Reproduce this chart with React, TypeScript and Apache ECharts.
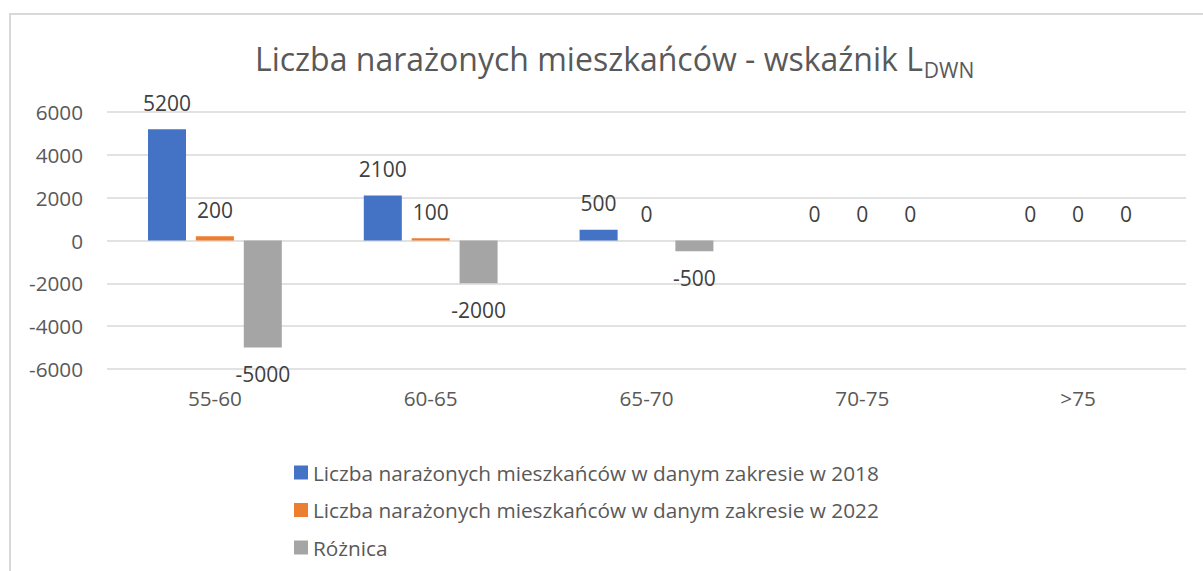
import React, { useEffect, useRef } from "react";
import * as echarts from "echarts";

const categories = ["55-60", "60-65", "65-70", "70-75", ">75"];
const values2018 = [5200, 2100, 500, 0, 0];
const values2022 = [200, 100, 0, 0, 0];
const valuesDiff = [-5000, -2000, -500, 0, 0];
const seriesNames = [
  "Liczba narażonych mieszkańców w danym zakresie w 2018",
  "Liczba narażonych mieszkańców w danym zakresie w 2022",
  "Różnica",
];
const seriesColors = ["#4472C4", "#ED7D31", "#A5A5A5"];
const titleMain = "Liczba narażonych mieszkańców - wskaźnik L";
const titleSub = "DWN";

const FONT = "'Open Sans', 'Noto Sans', sans-serif";
const TITLE_SIZE = 32;
const SUB_SIZE = 21;
const TITLE_X = 255;

function measure(text: string, size: number): number {
  const c = document.createElement("canvas").getContext("2d");
  if (!c) return text.length * size * 0.5;
  c.font = `${size}px ${FONT}`;
  return c.measureText(text).width;
}

export default function App() {
  const ref = useRef<HTMLDivElement>(null);
  useEffect(() => {
    if (!ref.current) return;
    const chart = echarts.init(ref.current, null, { renderer: "svg" });
    const mainW = measure(titleMain, TITLE_SIZE);
    const mk = (vals: number[], i: number) => ({
      name: seriesNames[i],
      type: "bar",
      barGap: "26%",
      barCategoryGap: "38%",
      itemStyle: { color: seriesColors[i] },
      data: vals.map((v) => ({
        value: v,
        label: { position: v < 0 ? "bottom" : "top" },
      })),
      label: {
        show: true,
        distance: 16,
        fontSize: 21,
        fontFamily: FONT,
        color: "#404040",
      },
    });
    chart.setOption({
      animation: false,
      backgroundColor: "#ffffff",
      textStyle: { fontFamily: FONT },
      title: {
        text: titleMain,
        left: TITLE_X - 5,
        top: 33,
        textStyle: {
          fontSize: TITLE_SIZE,
          fontFamily: FONT,
          fontWeight: "normal",
          color: "#595959",
          lineHeight: 40,
        },
      },
      legend: {
        orient: "vertical",
        left: 289,
        top: 457,
        icon: "rect",
        itemWidth: 14,
        itemHeight: 14,
        itemGap: 16.5,
        data: seriesNames,
        textStyle: {
          fontSize: 20.8,
          fontFamily: FONT,
          color: "#595959",
          lineHeight: 20,
        },
      },
      grid: { left: 107, right: 17, top: 112, bottom: 202, containLabel: false },
      xAxis: {
        type: "category",
        data: categories,
        axisLine: { show: false, onZero: false },
        axisTick: { show: false },
        axisLabel: {
          fontSize: 20.7,
          fontFamily: FONT,
          color: "#595959",
          margin: 18,
        },
        splitLine: { show: false },
      },
      yAxis: {
        type: "value",
        min: -6000,
        max: 6000,
        interval: 2000,
        axisLine: { show: false },
        axisTick: { show: false },
        axisLabel: {
          fontSize: 20.7,
          fontFamily: FONT,
          color: "#595959",
          margin: 24,
          formatter: (v: number) => String(v),
        },
        splitLine: { lineStyle: { color: "#D9D9D9", width: 1.5 } },
      },
      graphic: [
        {
          type: "rect",
          silent: true,
          z: -1,
          shape: { x: 10, y: 14, width: 1400, height: 800 },
          style: { fill: "none", stroke: "#D9D9D9", lineWidth: 2 },
        },
        {
          type: "text",
          silent: true,
          x: TITLE_X + mainW + 1,
          y: 70,
          style: {
            text: titleSub,
            fontSize: SUB_SIZE,
            fontFamily: FONT,
            fill: "#595959",
            align: "left",
            verticalAlign: "middle",
          },
        },
      ],
      series: [mk(values2018, 0), mk(values2022, 1), mk(valuesDiff, 2)],
    });
    return () => chart.dispose();
  }, []);
  return (
    <div
      ref={ref}
      style={{
        position: "absolute",
        left: 0,
        top: 0,
        width: 1203,
        height: 571,
        background: "#fff",
      }}
    />
  );
}
